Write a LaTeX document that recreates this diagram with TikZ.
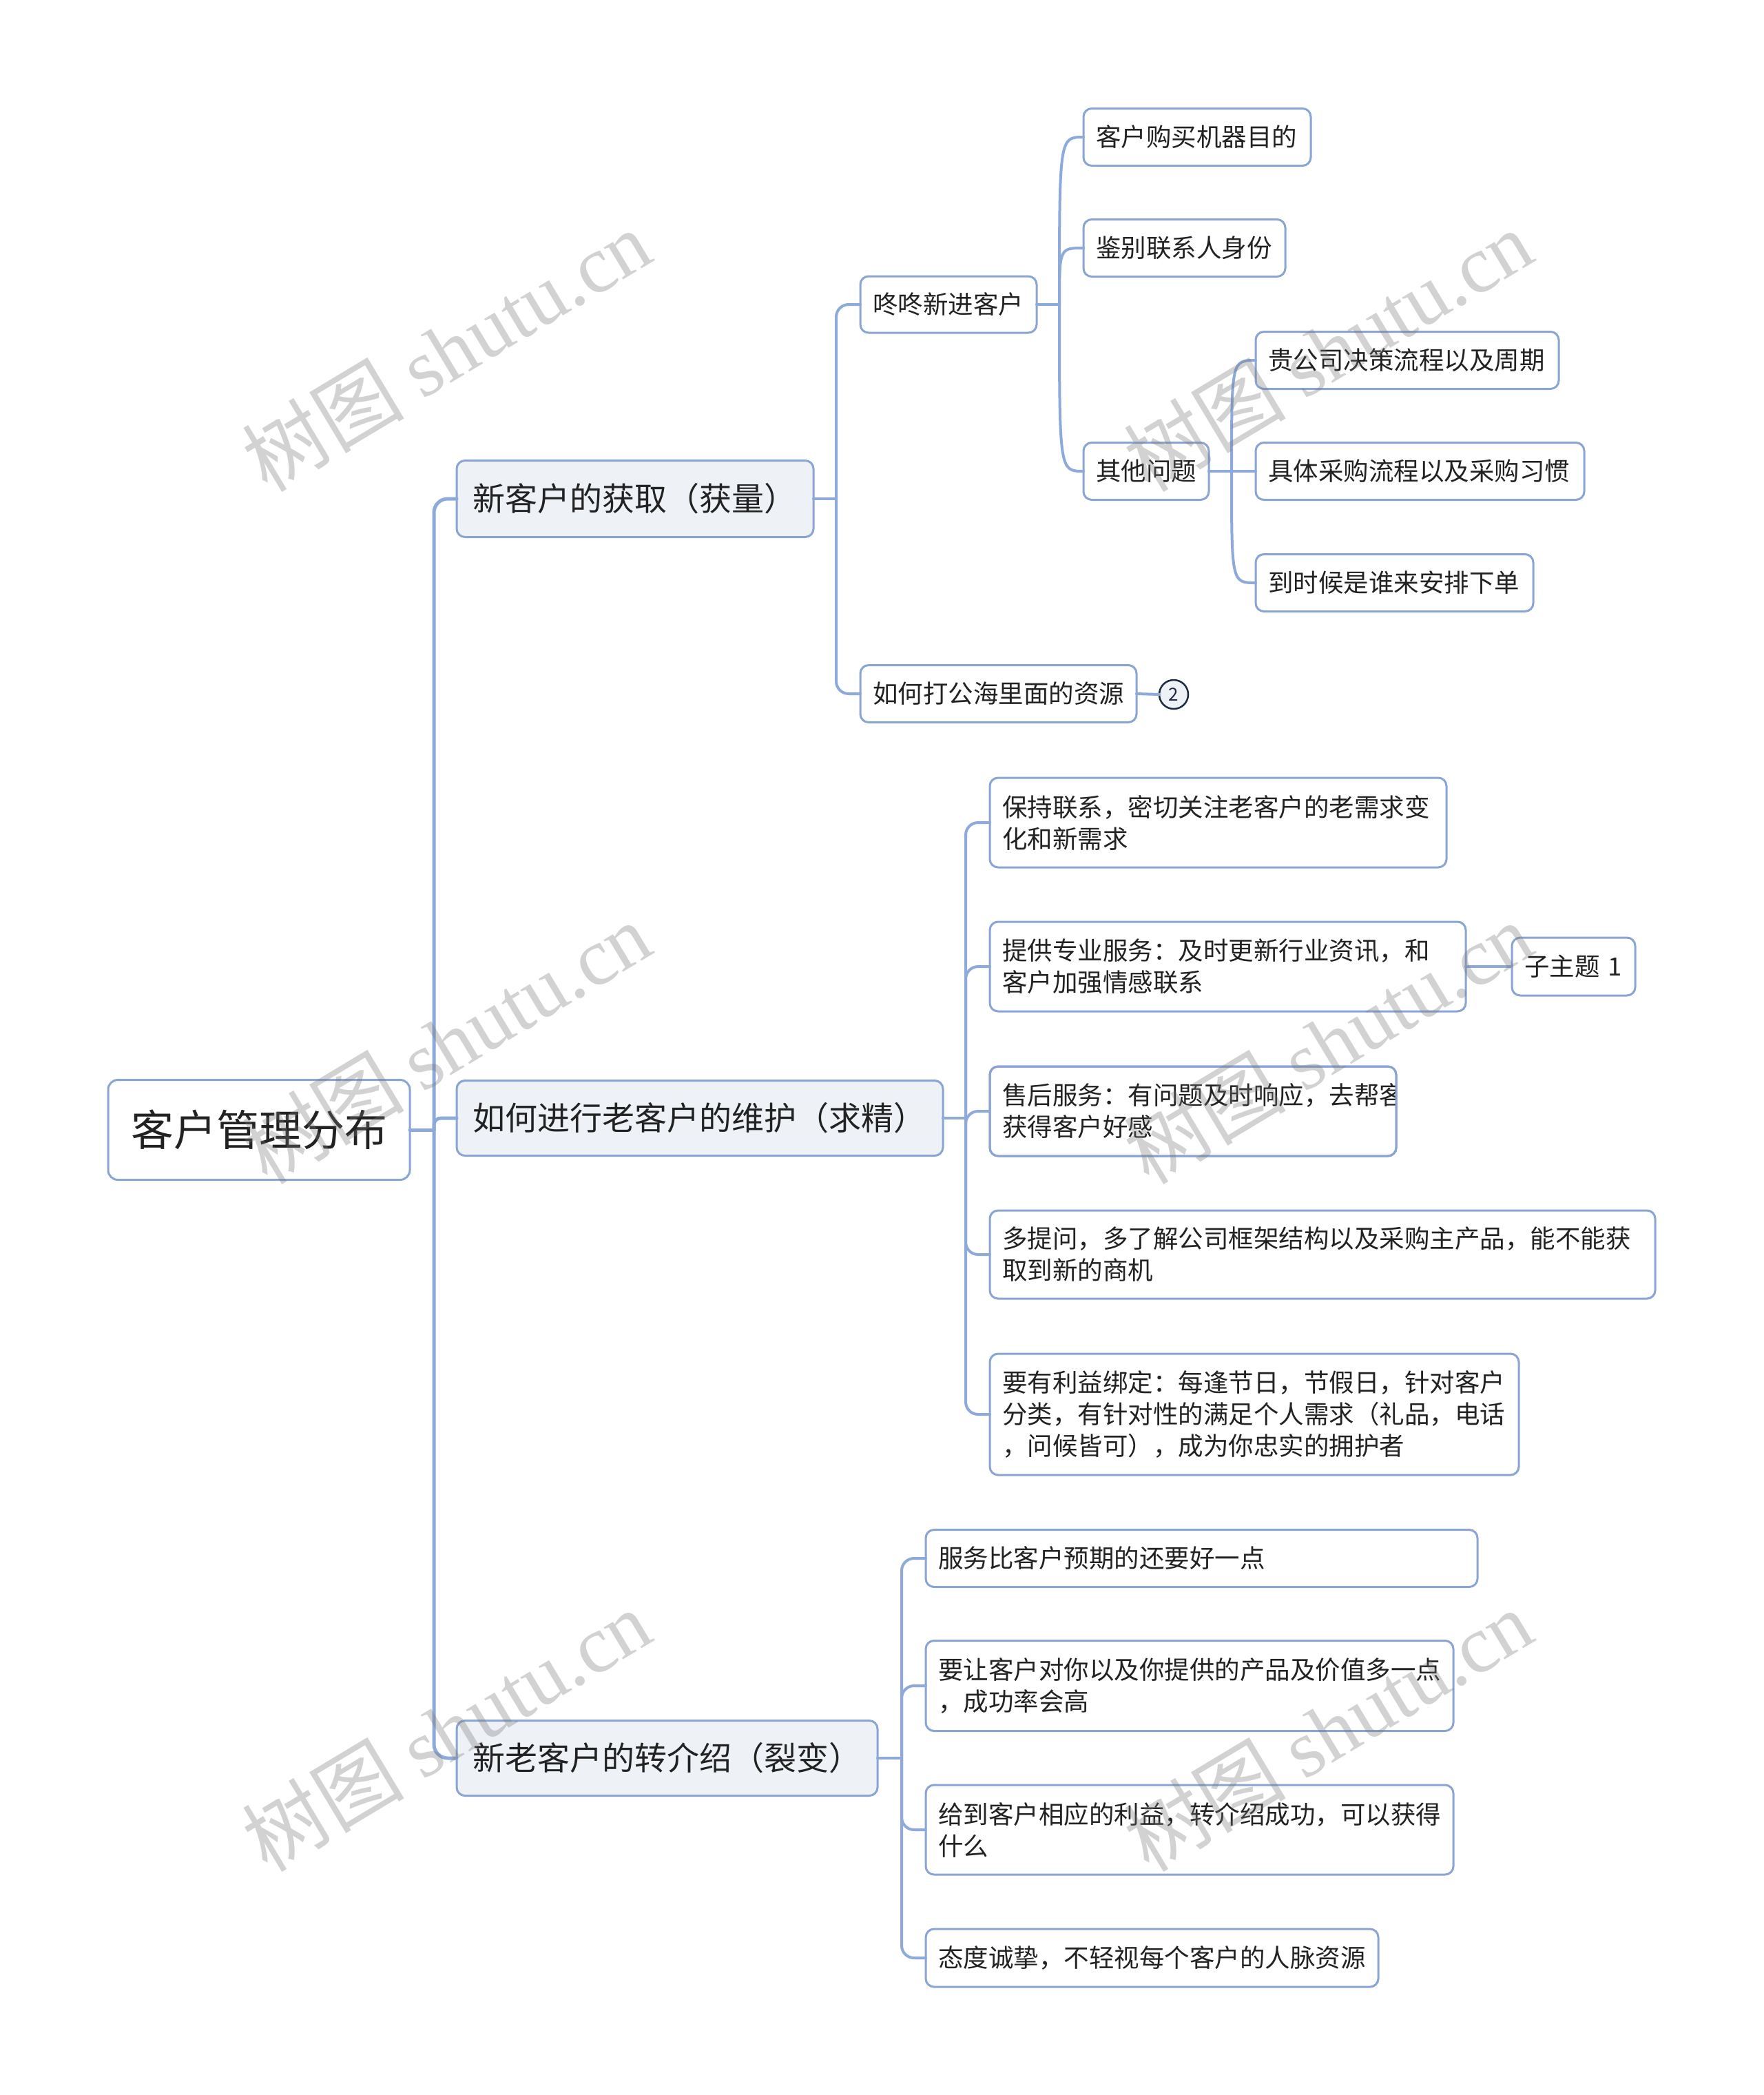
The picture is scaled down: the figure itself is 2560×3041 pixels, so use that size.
\documentclass[tikz,border=0pt]{standalone}
\usepackage{fontspec}
\setmainfont{Noto Sans CJK SC}
\newfontfamily\wmlatin{Liberation Serif}
\definecolor{lc}{RGB}{141,170,219}
\definecolor{bc}{RGB}{138,164,212}
\definecolor{fc}{RGB}{238,242,247}
\definecolor{tc}{RGB}{34,34,34}
\definecolor{cc}{RGB}{30,42,66}
\tikzset{
  conn/.style={draw=lc, line width=4pt, line cap=round},
  trunk/.style={draw=lc, line width=5pt, line cap=round},
  bx/.style={draw=bc, line width=3pt, rounded corners=12pt, fill=white, text=tc,
     anchor=west, align=left, inner xsep=18pt, inner ysep=0pt, outer sep=0pt,
     font=\fontsize{36.5}{46}\selectfont},
  lone/.style={bx, fill=fc, inner xsep=23pt, font=\fontsize{47}{54}\selectfont},
  rootbox/.style={draw=bc, line width=3pt, rounded corners=14pt, fill=white, text=tc,
     minimum width=438pt, minimum height=145pt, inner sep=0pt, outer sep=0pt,
     font=\fontsize{62}{70}\selectfont},
  numc/.style={circle, draw=cc, line width=2.5pt, fill=fc, minimum size=42pt,
     inner sep=0pt, outer sep=0pt, text=cc, font=\fontsize{26}{28}\selectfont},
  wm/.style={rotate=31, text={rgb,255:red,120;green,120;blue,120}, opacity=0.33,
     font=\fontsize{118}{120}\selectfont, inner sep=0pt}
}
\begin{document}
\begin{tikzpicture}[x=1pt,y=-1pt]
\fill[white] (0,0) rectangle (2560,3041);
\useasboundingbox (0,0) rectangle (2560,3041);

% root
\node[rootbox] (root) at (376,1640) {客户管理分布};

% level 1
\node[lone, text width=472pt, minimum height=111pt] (la) at (663,724) {新客户的获取（获量）};
\node[lone, text width=660pt, minimum height=109pt] (lb) at (663,1623) {如何进行老客户的维护（求精）};
\node[lone, text width=565pt, minimum height=109pt] (lc1) at (663,2552) {新老客户的转介绍（裂变）};

% branch a
\node[bx, text width=220pt, minimum height=82pt] (dd) at (1249,442) {咚咚新进客户};
\node[bx, text width=365pt, minimum height=83pt] (gh) at (1249,1007) {如何打公海里面的资源};
\node[numc] (num) at (1704,1008) {2};

\node[bx, text width=294pt, minimum height=83pt] (k1) at (1573,199) {客户购买机器目的};
\node[bx, text width=257pt, minimum height=83pt] (k2) at (1573,360) {鉴别联系人身份};
\node[bx, text width=146pt, minimum height=83pt] (k3) at (1573,684) {其他问题};

\node[bx, text width=404pt, minimum height=83pt] (q1) at (1823,523) {贵公司决策流程以及周期};
\node[bx, text width=441pt, minimum height=83pt] (q2) at (1823,684) {具体采购流程以及采购习惯};
\node[bx, text width=367pt, minimum height=83pt] (q3) at (1823,846) {到时候是谁来安排下单};

% branch b
\node[bx, text width=627pt, minimum height=130pt] (b1) at (1437,1194) {保持联系，密切关注老客户的老需求变\\化和新需求};
\node[bx, text width=655pt, minimum height=130pt] (b2) at (1437,1403) {提供专业服务：及时更新行业资讯，和\\客户加强情感联系};
\node[bx, text width=143pt, minimum height=84pt] (s1) at (2195,1403) {子主题 1};
\node[bx, text width=554pt, minimum height=130pt] (b3) at (1437,1613) {};
\begin{scope}
\clip (b3.south west) rectangle (b3.north east);
\node[bx, draw=none, fill=none, text width=700pt] (b3t) at (b3.west) {售后服务：有问题及时响应，去帮客\\获得客户好感};
\end{scope}
\draw[bc, line width=3pt, rounded corners=12pt] (b3.south west) rectangle (b3.north east);
\node[bx, text width=930pt, minimum height=128pt] (b4) at (1437,1821) {多提问，多了解公司框架结构以及采购主产品，能不能获\\取到新的商机};
\node[bx, text width=732pt, minimum height=176pt] (b5) at (1437,2053) {要有利益绑定：每逢节日，节假日，针对客户\\分类，有针对性的满足个人需求（礼品，电话\\，问候皆可），成为你忠实的拥护者};

% branch c
\node[bx, text width=765pt, minimum height=83pt] (c1) at (1344,2262) {服务比客户预期的还要好一点};
\node[bx, text width=730pt, minimum height=131pt] (c2) at (1344,2447) {要让客户对你以及你提供的产品及价值多一点\\，成功率会高};
\node[bx, text width=730pt, minimum height=130pt] (c3) at (1344,2656) {给到客户相应的利益，转介绍成功，可以获得\\什么};
\node[bx, text width=621pt, minimum height=84pt] (c4) at (1344,2842) {态度诚挚，不轻视每个客户的人脉资源};

% connectors root -> level 1
\coordinate (j0) at (630,1640);
\draw[trunk] (root.east) -- (j0);
\draw[trunk, rounded corners=20pt] (j0) |- (la.west);
\draw[trunk, rounded corners=10pt] (j0) |- (lb.west);
\draw[trunk, rounded corners=20pt] (j0) |- (lc1.west);

% level 1 a -> level 2
\coordinate (ja) at (1214,724);
\draw[conn] (la.east) -- (ja);
\draw[conn, rounded corners=18pt] (ja) |- (dd.west);
\draw[conn, rounded corners=18pt] (ja) |- (gh.west);
\draw[conn] (gh.east) -- (num.west);

% dd -> level 3 (curves)
\coordinate (jd) at (1538,442);
\draw[conn] (dd.east) -- (jd);
\draw[conn] (jd) .. controls (jd |- k1.west) and (jd |- k1.west) .. (k1.west);
\draw[conn] (jd) .. controls (jd |- k2.west) and (jd |- k2.west) .. (k2.west);
\draw[conn] (jd) .. controls (jd |- k3.west) and (jd |- k3.west) .. (k3.west);

% k3 -> level 4
\coordinate (jk) at (1788,684);
\draw[conn] (k3.east) -- (jk);
\draw[conn] (jk) .. controls (jk |- q1.west) and (jk |- q1.west) .. (q1.west);
\draw[conn] (jk) -- (q2.west);
\draw[conn] (jk) .. controls (jk |- q3.west) and (jk |- q3.west) .. (q3.west);

% level 1 b -> level 2
\coordinate (jb) at (1402,1623);
\draw[conn] (lb.east) -- (jb);
\foreach \n in {b1,b2,b3,b4,b5}{
  \draw[conn, rounded corners=18pt] (jb) |- (\n.west);
}
\draw[conn] (b2.east) -- (s1.west);

% level 1 c -> level 2
\coordinate (jc) at (1309,2552);
\draw[conn] (lc1.east) -- (jc);
\foreach \n in {c1,c2,c3,c4}{
  \draw[conn, rounded corners=18pt] (jc) |- (\n.west);
}

% watermarks
\node[wm] (w1) at (648,508) {树图 {\wmlatin shutu.cn}};
\node[wm] (w2) at (1928,508) {树图 {\wmlatin shutu.cn}};
\node[wm] (w3) at (648,1513) {树图 {\wmlatin shutu.cn}};
\node[wm] (w4) at (1928,1513) {树图 {\wmlatin shutu.cn}};
\node[wm] (w5) at (648,2511) {树图 {\wmlatin shutu.cn}};
\node[wm] (w6) at (1928,2511) {树图 {\wmlatin shutu.cn}};
\end{tikzpicture}
\end{document}
